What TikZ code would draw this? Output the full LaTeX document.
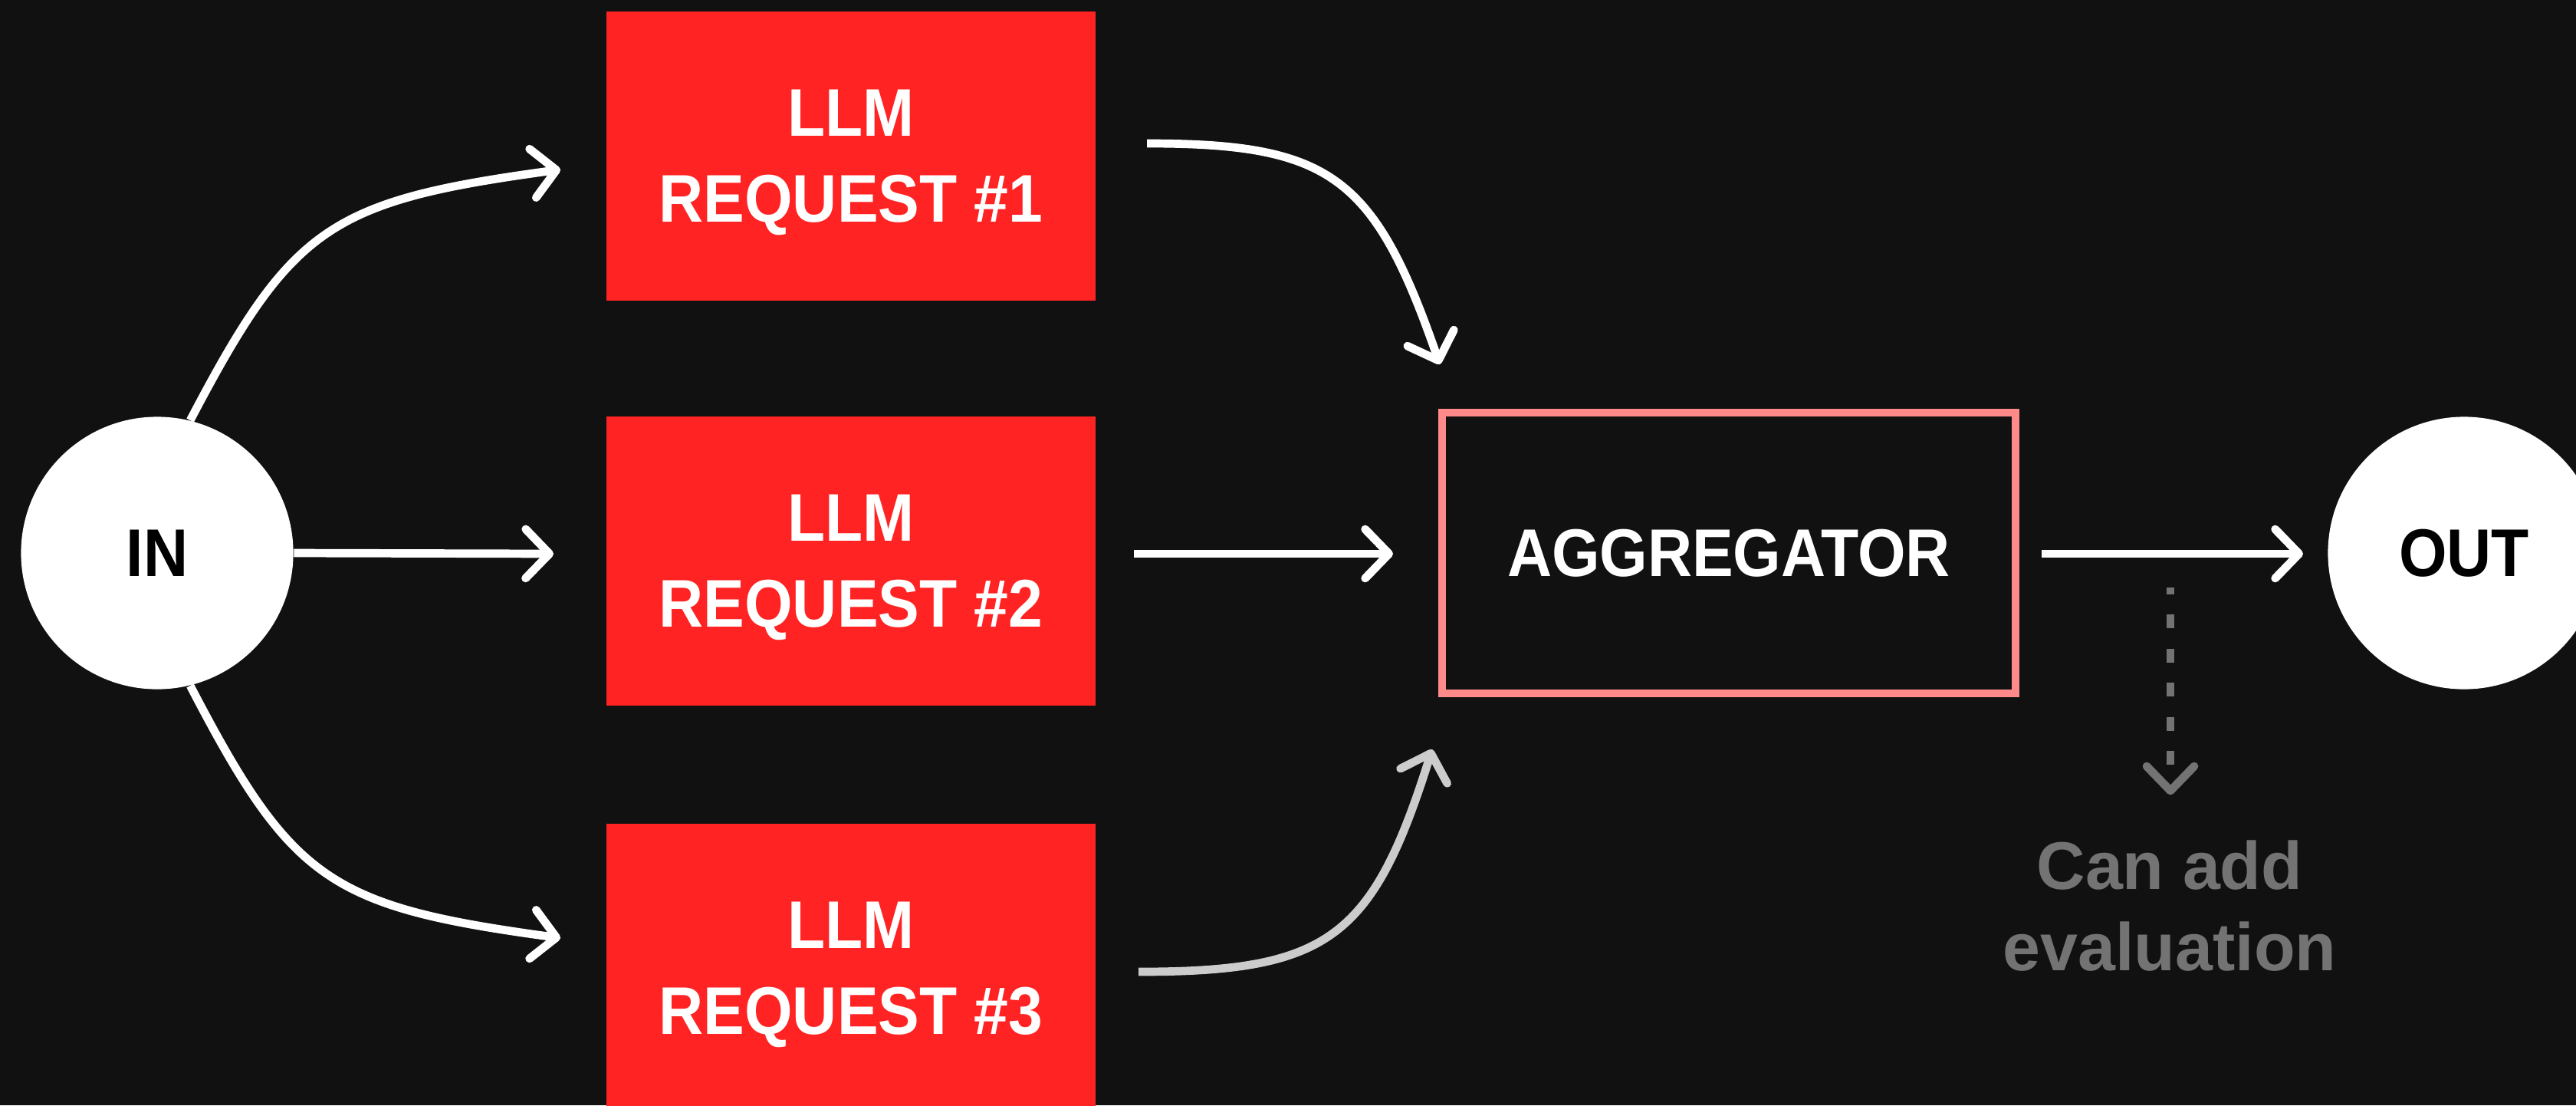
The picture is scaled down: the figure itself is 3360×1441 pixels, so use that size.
\documentclass[tikz,border=0pt]{standalone}
\usepackage{fontspec}
\setmainfont{Liberation Sans}
\newfontfamily\capsfont{Liberation Sans}[FakeStretch=0.915]
\usetikzlibrary{arrows.meta}
\definecolor{bgcol}{HTML}{111111}
\definecolor{llmred}{HTML}{FF2323}
\definecolor{aggpink}{HTML}{FF8A8A}
\definecolor{curvegray}{HTML}{CCCCCC}
\definecolor{evgray}{HTML}{737373}
\begin{document}
\begin{tikzpicture}[x=0.01cm, y=-0.01cm,
  capstext/.style={font=\capsfont\bfseries\fontsize{25}{31.9}\selectfont},
  llm/.style={capstext, fill=llmred, text=white, minimum width=6.38cm, minimum height=3.77cm, inner sep=0pt, align=center, text depth=0pt},
  agg/.style={capstext, draw=aggpink, line width=0.1cm, text=white, minimum width=7.48cm, minimum height=3.66cm, inner sep=0pt},
  endpoint/.style={capstext, circle, fill=white, text=black, minimum size=3.55cm, inner sep=0pt},
  evtext/.style={font=\bfseries\fontsize{25}{30.4}\selectfont, text=evgray, align=center, inner sep=0pt},
  conn/.style={line width=0.107cm, white, -{Straight Barb[length=0.31cm, width=0.64cm, round]}},
  conngray/.style={conn, curvegray},
  evline/.style={line width=0.107cm, evgray, line cap=butt, dash pattern=on 0.18cm off 0.264cm, dash phase=0.09cm},
  evhead/.style={line width=0.107cm, evgray, line cap=round, line join=round}
]
\fill[bgcol] (0,0) rectangle (3360,1441);
\useasboundingbox (0,0) rectangle (3360,1441);
\clip (0,0) rectangle (3360,1441);

% nodes
\node[endpoint] (in) at (205,721) {IN};
\node[endpoint] (out) at (3214,721) {OUT};
\node[llm] (r1) at (1110,203.5) {LLM\\REQUEST \#1};
\node[llm] (r2) at (1110,731.5) {LLM\\REQUEST \#2};
\node[llm] (r3) at (1110,1262.5) {LLM\\REQUEST \#3};
\node[agg] (agg) at (2255,721) {AGGREGATOR};
\node[evtext] (ev) at (2830,1181) {Can add\\evaluation};

% free ends
\coordinate (t0) at (722,722);
\coordinate (t1) at (731,221);
\coordinate (t3) at (731,1223);
\coordinate (s4) at (1496,187);
\coordinate (t4) at (1878,475);
\coordinate (s5) at (1479,722);
\coordinate (t5) at (1817,722);
\coordinate (s6) at (1485,1267);
\coordinate (t6) at (1868,977);
\coordinate (s7) at (2663,722);
\coordinate (t7) at (3004,722);
\coordinate (s8) at (2831,766);
\coordinate (e8) at (2831,997);
\coordinate (t8) at (2831,1031);

% connectors
\draw[conn] (in.east) -- (t0);
\draw[conn] (in.76) .. controls (381,295) and (429.5,262) .. (t1);
\draw[conn] (in.-76) .. controls (381,1149) and (429.5,1182) .. (t3);
\draw[conn] (s4) .. controls (1736,187) and (1793,230) .. (t4);
\draw[conn] (s5) -- (t5);
\draw[conngray] (s6) .. controls (1733,1267) and (1790.6,1223.5) .. (t6);
\draw[conn] (s7) -- (t7);
\draw[evline] (s8) -- (e8);
\draw[evhead] (t8) ++(-31,-32) -- (t8) -- ++(31,-32);
\end{tikzpicture}
\end{document}
